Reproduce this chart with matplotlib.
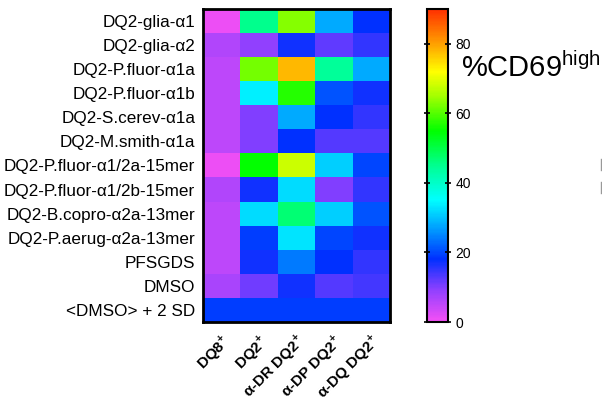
import matplotlib
matplotlib.use('Agg')
import matplotlib.pyplot as plt
import matplotlib.transforms as mtransforms
import numpy as np
from matplotlib.colors import LinearSegmentedColormap

plt.rcParams['font.family'] = ['Liberation Sans', 'DejaVu Sans']
plt.rcParams['mathtext.fontset'] = 'custom'
plt.rcParams['mathtext.rm'] = 'Liberation Sans'
plt.rcParams['mathtext.bf'] = 'Liberation Sans:bold'

peptides = ['DQ2-glia-α1', 'DQ2-glia-α2', 'DQ2-P.fluor-α1a', 'DQ2-P.fluor-α1b',
            'DQ2-S.cerev-α1a', 'DQ2-M.smith-α1a', 'DQ2-P.fluor-α1/2a-15mer',
            'DQ2-P.fluor-α1/2b-15mer', 'DQ2-B.copro-α2a-13mer',
            'DQ2-P.aerug-α2a-13mer', 'PFSGDS', 'DMSO', '<DMSO> + 2 SD']
conditions = [r'DQ8$^{\mathbf{+}}$', r'DQ2$^{\mathbf{+}}$', r'α-DR DQ2$^{\mathbf{+}}$',
              r'α-DP DQ2$^{\mathbf{+}}$', r'α-DQ DQ2$^{\mathbf{+}}$']

# %CD69high per peptide (rows) and condition (columns)
dq8 =    [1, 6, 5, 5, 5, 5, 1, 6, 5, 5, 5, 7, 19]
dq2 =    [45, 9, 62, 34, 10, 10, 55, 17, 32, 19, 17, 11, 19]
anti_dr = [63, 17, 78, 57, 28, 18, 68, 32, 47, 33, 24, 17, 19]
anti_dp = [28, 12, 44, 21, 18, 13, 31, 10, 31, 20, 18, 13, 19]
anti_dq = [18, 15, 28, 17, 15, 13, 20, 15, 21, 17, 15, 14, 19]
values = np.array([dq8, dq2, anti_dr, anti_dp, anti_dq]).T

cmap = LinearSegmentedColormap.from_list('prism_rainbow', [
    (0.00, '#f550f5'), (0.10, '#9040ff'), (0.20, '#0030ff'), (0.30, '#00a0ff'),
    (0.39, '#00ffff'), (0.50, '#00ff90'), (0.61, '#00ff00'), (0.72, '#a0ff00'),
    (0.80, '#ffff00'), (0.89, '#ffa000'), (1.00, '#ff3000')])

fig = plt.figure(figsize=(6.02, 4.03), dpi=100)
W, H = 602, 403
ax = fig.add_axes([203 / W, 1 - 322 / H, 187 / W, 313 / H])
im = ax.imshow(values, cmap=cmap, vmin=0, vmax=90, aspect='auto', interpolation='nearest')

ax.set_yticks(range(len(peptides)))
ax.set_yticklabels(peptides, fontsize=12.3)
ax.set_xticks(range(len(conditions)))
ax.set_xticklabels(conditions, fontsize=11, fontweight='bold', rotation=45,
                   ha='right', va='center', rotation_mode='anchor')
ax.tick_params(length=0, pad=5.5)
ax.tick_params(axis='x', pad=11)
shift = mtransforms.ScaledTranslation(6 / 100, -1 / 100, fig.dpi_scale_trans)
for lab in ax.get_xticklabels():
    lab.set_transform(lab.get_transform() + shift)
for s in ax.spines.values():
    s.set_linewidth(2)

cax = fig.add_axes([427 / W, 1 - 322 / H, 21 / W, 313 / H])
cb = fig.colorbar(im, cax=cax)
cb.set_ticks([0, 20, 40, 60, 80])
cb.ax.tick_params(labelsize=10, direction='inout', length=5, width=1.2,
                  left=True, right=True, pad=3)
cb.outline.set_linewidth(1.5)

fig.text(461 / W, 1 - 77 / H, r'%CD69$^{\mathrm{high}}$', fontsize=21, va='baseline')

# clipped marks at right edge
for y0 in (159, 182):
    fig.add_artist(plt.Line2D([600.5 / W, 600.5 / W], [1 - y0 / H, 1 - (y0 + 11) / H],
                              color='#999999', lw=1))

fig.savefig('out.png', dpi=100)
